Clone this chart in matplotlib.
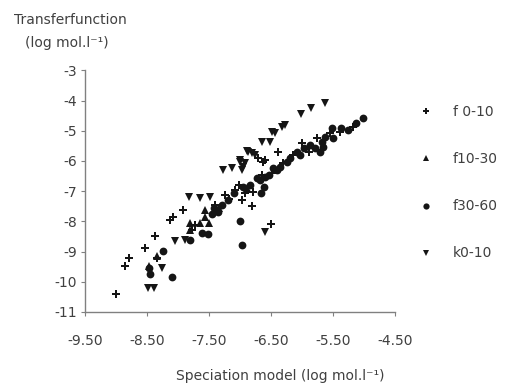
import matplotlib
matplotlib.use("Agg")
import matplotlib.pyplot as plt

# log concentrations: speciation model (x) vs transfer function (y)
f0_10_x = [-9.01, -8.86, -8.80, -8.53, -8.38, -8.35, -8.14, -8.08, -7.92, -7.73,
           -7.78, -7.41, -7.25, -7.09, -6.81, -6.50, -6.72, -6.64, -6.39, -6.60,
           -6.92, -6.79, -6.65, -6.49, -6.31, -6.15, -6.01, -5.90, -5.76, -5.56,
           -5.39, -5.18, -7.02, -7.18, -6.97]
f0_10_y = [-10.41, -9.48, -9.23, -8.88, -8.49, -9.22, -7.96, -7.85, -7.63, -8.12,
           -8.29, -7.46, -7.13, -6.96, -7.49, -8.10, -5.90, -6.03, -5.69, -5.96,
           -7.07, -7.02, -6.47, -6.41, -6.08, -5.80, -5.42, -5.69, -5.25, -5.08,
           -5.03, -4.86, -6.80, -7.25, -7.30]

f10_30_x = [-7.81, -7.81, -7.65, -7.51, -7.57, -7.57, -8.35, -8.47, -7.35, -6.89]
f10_30_y = [-8.05, -8.29, -8.07, -8.07, -7.63, -7.85, -9.16, -9.48, -7.55, -6.91]

f30_60_x = [-8.10, -8.24, -8.48, -8.46, -7.81, -7.52, -7.62, -7.01, -6.98, -6.66,
            -7.36, -7.30, -7.43, -7.20, -7.10, -6.95, -6.84, -6.73, -6.62, -6.54,
            -6.47, -6.36, -6.25, -6.20, -6.09, -6.04, -5.98, -5.88, -5.79, -5.72,
            -5.69, -5.67, -5.64, -5.53, -5.50, -5.37, -5.26, -5.13, -5.02, -6.68,
            -6.60, -6.41, -7.45]
f30_60_y = [-9.86, -8.98, -9.56, -9.73, -8.62, -8.42, -8.40, -7.98, -8.79, -7.05,
            -7.69, -7.46, -7.56, -7.30, -7.05, -6.85, -6.80, -6.58, -6.85, -6.47,
            -6.24, -6.19, -6.02, -5.91, -5.69, -5.80, -5.58, -5.47, -5.58, -5.69,
            -5.36, -5.53, -5.20, -4.92, -5.25, -4.92, -4.97, -4.75, -4.58, -6.63,
            -6.52, -6.30, -7.75]

k0_10_x = [-5.64, -5.86, -6.03, -6.28, -6.33, -6.44, -6.49, -6.53, -6.65, -6.77,
           -6.82, -6.90, -6.93, -7.01, -7.14, -6.98, -7.28, -7.49, -7.65, -7.83,
           -8.06, -8.27, -8.40, -8.49, -6.61, -7.90, -6.87, -7.01, -6.96]
k0_10_y = [-4.07, -4.25, -4.45, -4.81, -4.86, -5.08, -5.03, -5.36, -5.36, -5.80,
           -5.73, -5.66, -6.08, -6.02, -6.24, -6.30, -6.30, -7.21, -7.24, -7.21,
           -8.66, -9.56, -10.20, -10.22, -8.37, -8.62, -5.69, -5.96, -6.19]

x_ticks = [-9.5, -8.5, -7.5, -6.5, -5.5, -4.5]
y_ticks = [-3, -4, -5, -6, -7, -8, -9, -10, -11]

plt.rcParams["font.family"] = ["DejaVu Sans"]
text_col = "#404040"
axis_col = "#808080"

fig = plt.figure(figsize=(5.05, 3.85), dpi=100)
ax = fig.add_axes([0.169, 0.19, 0.614, 0.627])

mk = "#151515"
ax.plot(f0_10_x, f0_10_y, "P", ms=6.2, color=mk, mew=0, label="f 0-10")
ax.plot(f10_30_x, f10_30_y, "^", ms=5.6, color=mk, mew=0, label="f10-30")
ax.plot(f30_60_x, f30_60_y, "o", ms=5.6, color=mk, mew=0, label="f30-60")
ax.plot(k0_10_x, k0_10_y, "v", ms=6.2, color=mk, mew=0, label="k0-10")

ax.set_xlim(-9.5, -4.5)
ax.set_ylim(-11, -3)
ax.set_xticks(x_ticks)
ax.set_xticklabels([f"{v:.2f}" for v in x_ticks])
ax.set_yticks(y_ticks)
ax.set_yticklabels([str(v) for v in y_ticks])

for s in ["top", "right"]:
    ax.spines[s].set_visible(False)
for s in ["left", "bottom"]:
    ax.spines[s].set_color(axis_col)
    ax.spines[s].set_linewidth(1.0)
ax.tick_params(direction="out", length=3, width=0.8, color=axis_col,
               labelcolor=text_col, labelsize=10)
ax.tick_params(axis="x", pad=13)
ax.tick_params(axis="y", pad=3)

fig.text(0.139, 0.948, "Transferfunction", ha="center", va="center",
         fontsize=10, color=text_col)
fig.text(0.133, 0.888, "(log mol.l⁻¹)", ha="center", va="center",
         fontsize=10, color=text_col)
fig.text(0.554, 0.023, "Speciation model (log mol.l⁻¹)", ha="center",
         va="center", fontsize=10, color=text_col)

leg = fig.legend(loc="upper left", bbox_to_anchor=(0.806, 0.759), frameon=False,
                 fontsize=10, labelspacing=2.38, handlelength=1.0,
                 handletextpad=1.4, markerscale=0.8)
for t in leg.get_texts():
    t.set_color(text_col)

fig.savefig("out.png", dpi=100)
